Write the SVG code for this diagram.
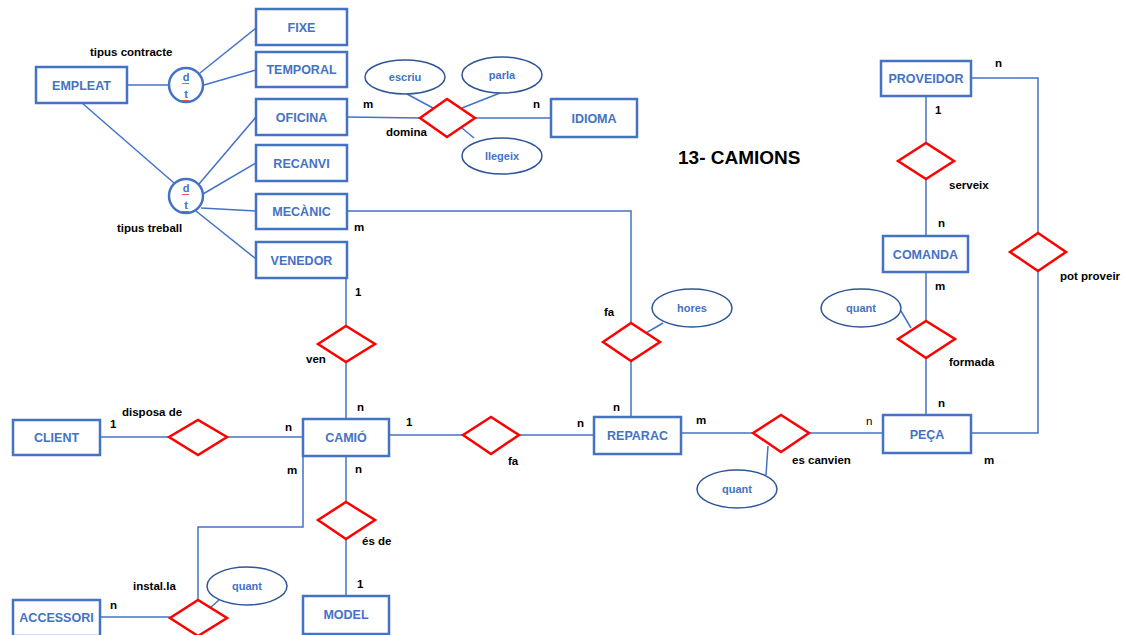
<svg xmlns="http://www.w3.org/2000/svg" width="1125" height="635" viewBox="0 0 1125 635">
  <style>
    .ent rect { fill: #ffffff; stroke: #4472C4; stroke-width: 2.5; }
    .ent text { font-family: "Liberation Sans", Arial, sans-serif; font-weight: bold; font-size: 12.5px; fill: #4472C4; text-anchor: middle; }
    .rel polygon { fill: #ffffff; stroke: #FF0000; stroke-width: 2.5; }
    .attr ellipse { fill: #ffffff; stroke: #2F5597; stroke-width: 1.5; }
    .attr text { font-family: "Liberation Sans", Arial, sans-serif; font-weight: bold; font-size: 11px; fill: #4472C4; text-anchor: middle; }
    .isa circle { fill: #ffffff; stroke: #4472C4; stroke-width: 2.5; }
    .isa text { font-family: "Liberation Sans", Arial, sans-serif; font-weight: bold; font-size: 11px; fill: #4472C4; text-anchor: middle; }
    .squig { fill: none; stroke: #E03030; stroke-width: 0.8; }
    .conn line, .conn polyline { fill: none; stroke: #4472C4; stroke-width: 1.5; }
    .lbl { font-family: "Liberation Sans", Arial, sans-serif; font-weight: bold; font-size: 11.5px; fill: #000000; }
    .lblr { font-family: "Liberation Sans", Arial, sans-serif; font-size: 11.5px; fill: #000000; }
    .title { font-family: "Liberation Sans", Arial, sans-serif; font-weight: bold; font-size: 19px; fill: #000000; }
  </style>

  <!-- connectors -->
  <g id="connectors" class="conn">
    <!-- specialisations of EMPLEAT -->
    <line x1="127" y1="85" x2="169" y2="85"/>
    <line x1="200" y1="73" x2="256" y2="28"/>
    <line x1="204" y1="85" x2="256" y2="70"/>
    <line x1="82" y1="103" x2="174" y2="183"/>
    <line x1="199" y1="184" x2="256" y2="117"/>
    <line x1="203" y1="194" x2="256" y2="163"/>
    <line x1="201" y1="208" x2="256" y2="211"/>
    <line x1="196" y1="211" x2="256" y2="259"/>
    <!-- domina -->
    <line x1="347" y1="117" x2="420" y2="118"/>
    <line x1="475" y1="118" x2="551" y2="118"/>
    <line x1="407" y1="94" x2="433" y2="108"/>
    <line x1="500" y1="93" x2="462" y2="108"/>
    <line x1="462" y1="128" x2="474" y2="138"/>
    <!-- MECÀNIC fa REPARAC -->
    <polyline points="347,211 631,211 631,323"/>
    <line x1="631" y1="361" x2="631" y2="417"/>
    <line x1="663" y1="323" x2="646" y2="333"/>
    <!-- ven -->
    <line x1="346" y1="278" x2="346" y2="326"/>
    <line x1="346" y1="362" x2="346" y2="419"/>
    <!-- disposa de -->
    <line x1="100" y1="437" x2="169" y2="437"/>
    <line x1="227" y1="437" x2="303" y2="437"/>
    <!-- CAMIÓ fa REPARAC -->
    <line x1="389" y1="435" x2="463" y2="435"/>
    <line x1="519" y1="435" x2="594" y2="435"/>
    <!-- es canvien -->
    <line x1="681" y1="433" x2="753" y2="433"/>
    <line x1="809" y1="433" x2="883" y2="433"/>
    <line x1="766" y1="475" x2="768" y2="446"/>
    <!-- és de -->
    <line x1="346" y1="456" x2="346" y2="502"/>
    <line x1="346" y1="539" x2="346" y2="596"/>
    <!-- instal.la -->
    <polyline points="303,456 303,527 198,527 198,600"/>
    <line x1="100" y1="617" x2="170" y2="617"/>
    <line x1="219" y1="600" x2="210" y2="608"/>
    <!-- serveix / formada -->
    <line x1="926" y1="96" x2="926" y2="143"/>
    <line x1="926" y1="179" x2="926" y2="236"/>
    <line x1="926" y1="272" x2="926" y2="321"/>
    <line x1="926" y1="358" x2="926" y2="415"/>
    <line x1="901" y1="311" x2="911" y2="328"/>
    <!-- pot proveir -->
    <polyline points="971,78 1038,78 1038,233"/>
    <polyline points="1038,271 1038,433 971,433"/>
  </g>

  <!-- entities -->
  <g id="empleat" class="ent"><rect x="36" y="67" width="91" height="36"/><text x="81.5" y="90">EMPLEAT</text></g>
  <g id="fixe" class="ent"><rect x="256" y="9" width="91" height="36"/><text x="301.5" y="32">FIXE</text></g>
  <g id="temporal" class="ent"><rect x="256" y="52" width="91" height="35"/><text x="301.5" y="74">TEMPORAL</text></g>
  <g id="oficina" class="ent"><rect x="256" y="99" width="91" height="36"/><text x="301.5" y="122">OFICINA</text></g>
  <g id="recanvi" class="ent"><rect x="256" y="145" width="91" height="36"/><text x="301.5" y="168">RECANVI</text></g>
  <g id="mecanic" class="ent"><rect x="256" y="194" width="91" height="35"/><text x="301.5" y="216">MECÀNIC</text></g>
  <g id="venedor" class="ent"><rect x="256" y="242" width="91" height="36"/><text x="301.5" y="265">VENEDOR</text></g>
  <g id="idioma" class="ent"><rect x="551" y="99" width="86" height="38"/><text x="594" y="123">IDIOMA</text></g>
  <g id="proveidor" class="ent"><rect x="881" y="61" width="90" height="35"/><text x="926" y="83">PROVEIDOR</text></g>
  <g id="comanda" class="ent"><rect x="883" y="236" width="85" height="36"/><text x="925.5" y="259">COMANDA</text></g>
  <g id="peca" class="ent"><rect x="883" y="415" width="88" height="38"/><text x="927" y="439">PEÇA</text></g>
  <g id="reparac" class="ent"><rect x="594" y="417" width="87" height="37"/><text x="637.5" y="440">REPARAC</text></g>
  <g id="camio" class="ent"><rect x="303" y="419" width="86" height="37"/><text x="346" y="442">CAMIÓ</text></g>
  <g id="client" class="ent"><rect x="13" y="420" width="87" height="35"/><text x="56.5" y="442">CLIENT</text></g>
  <g id="accessori" class="ent"><rect x="13" y="600" width="87" height="36"/><text x="56.5" y="622">ACCESSORI</text></g>
  <g id="model" class="ent"><rect x="303" y="596" width="86" height="38"/><text x="346" y="619">MODEL</text></g>

  <!-- specialisation circles -->
  <g id="isa-contracte" class="isa">
    <circle cx="186" cy="85" r="17"/>
    <text x="186" y="81">d</text>
    <text x="186" y="98">t</text>
    <path class="squig" d="M182,83 l1,1 l1,-1 l1,1 l1,-1 l1,1 l1,-1 l1,1"/>
    <path class="squig" d="M182,100 l1,1 l1,-1 l1,1 l1,-1 l1,1 l1,-1 l1,1"/>
  </g>
  <g id="isa-treball" class="isa">
    <circle cx="186" cy="196" r="17"/>
    <text x="186" y="192">d</text>
    <text x="186" y="209">t</text>
    <path class="squig" d="M182,194 l1,1 l1,-1 l1,1 l1,-1 l1,1 l1,-1 l1,1"/>
    <path class="squig" d="M182,211 l1,1 l1,-1 l1,1 l1,-1 l1,1 l1,-1 l1,1"/>
  </g>

  <!-- relationships -->
  <g id="rel-domina" class="rel"><polygon points="420,118 447,99 475,118 447,137"/></g>
  <g id="rel-fa-mecanic" class="rel"><polygon points="603,342 631,323 660,342 631,361"/></g>
  <g id="rel-ven" class="rel"><polygon points="318,344 346,326 375,344 346,362"/></g>
  <g id="rel-disposa" class="rel"><polygon points="169,437 198,420 227,437 198,455"/></g>
  <g id="rel-fa-camio" class="rel"><polygon points="463,435 491,417 519,435 491,454"/></g>
  <g id="rel-canvien" class="rel"><polygon points="753,433 781,415 809,433 781,452"/></g>
  <g id="rel-esde" class="rel"><polygon points="318,520 346,502 375,520 346,539"/></g>
  <g id="rel-installa" class="rel"><polygon points="170,618 198,600 227,618 198,636"/></g>
  <g id="rel-serveix" class="rel"><polygon points="898,161 926,143 954,161 926,179"/></g>
  <g id="rel-formada" class="rel"><polygon points="898,339 926,321 955,339 926,358"/></g>
  <g id="rel-potproveir" class="rel"><polygon points="1010,252 1038,233 1066,252 1038,271"/></g>

  <!-- attributes -->
  <g id="attr-escriu" class="attr"><ellipse cx="405" cy="77" rx="40" ry="17"/><text x="405" y="81">escriu</text></g>
  <g id="attr-parla" class="attr"><ellipse cx="502" cy="75" rx="40" ry="18"/><text x="502" y="79">parla</text></g>
  <g id="attr-llegeix" class="attr"><ellipse cx="502" cy="156" rx="40" ry="18"/><text x="502" y="160">llegeix</text></g>
  <g id="attr-hores" class="attr"><ellipse cx="692" cy="308" rx="40" ry="19"/><text x="692" y="312">hores</text></g>
  <g id="attr-quant-formada" class="attr"><ellipse cx="861" cy="308" rx="40" ry="19"/><text x="861" y="312">quant</text></g>
  <g id="attr-quant-canvien" class="attr"><ellipse cx="737" cy="489" rx="40" ry="19"/><text x="737" y="493">quant</text></g>
  <g id="attr-quant-installa" class="attr"><ellipse cx="247" cy="586" rx="40" ry="19"/><text x="247" y="590">quant</text></g>

  <!-- labels and cardinalities -->
  <g id="labels">
    <text class="title" x="678" y="164">13- CAMIONS</text>
    <text class="lbl" x="90" y="56">tipus contracte</text>
    <text class="lbl" x="117" y="232">tipus treball</text>
    <text class="lbl" x="363" y="108">m</text>
    <text class="lbl" x="533" y="108">n</text>
    <text class="lbl" x="386" y="136">domina</text>
    <text class="lbl" x="354" y="231">m</text>
    <text class="lbl" x="995" y="67">n</text>
    <text class="lbl" x="935" y="114">1</text>
    <text class="lbl" x="949" y="189">serveix</text>
    <text class="lbl" x="938" y="227">n</text>
    <text class="lbl" x="935" y="290">m</text>
    <text class="lbl" x="1060" y="280">pot proveir</text>
    <text class="lbl" x="949" y="366">formada</text>
    <text class="lbl" x="938" y="407">n</text>
    <text class="lblr" x="866" y="425">n</text>
    <text class="lbl" x="984" y="464">m</text>
    <text class="lbl" x="792" y="464">es canvien</text>
    <text class="lbl" x="604" y="316">fa</text>
    <text class="lbl" x="613" y="411">n</text>
    <text class="lbl" x="577" y="427">n</text>
    <text class="lbl" x="508" y="465">fa</text>
    <text class="lbl" x="696" y="424">m</text>
    <text class="lbl" x="406" y="426">1</text>
    <text class="lbl" x="355" y="296">1</text>
    <text class="lbl" x="306" y="363">ven</text>
    <text class="lbl" x="357" y="411">n</text>
    <text class="lbl" x="122" y="416">disposa de</text>
    <text class="lbl" x="110" y="428">1</text>
    <text class="lbl" x="285" y="431">n</text>
    <text class="lbl" x="287" y="474">m</text>
    <text class="lbl" x="355" y="473">n</text>
    <text class="lbl" x="362" y="545">és de</text>
    <text class="lbl" x="357" y="588">1</text>
    <text class="lbl" x="133" y="590">instal.la</text>
    <text class="lbl" x="110" y="609">n</text>
  </g>
</svg>
